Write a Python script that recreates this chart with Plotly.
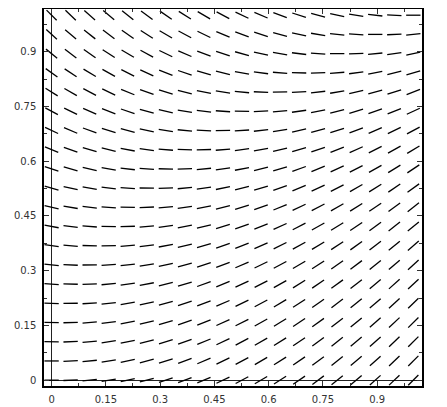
import plotly.graph_objects as go

# grid positions (20 x 20)
xs = [0.0, 0.0526, 0.1053, 0.1579, 0.2105, 0.2632, 0.3158, 0.3684, 0.4211, 0.4737,
      0.5263, 0.5789, 0.6316, 0.6842, 0.7368, 0.7895, 0.8421, 0.8947, 0.9474, 1.0]
ys = [0.0, 0.0526, 0.1053, 0.1579, 0.2105, 0.2632, 0.3158, 0.3684, 0.4211, 0.4737,
      0.5263, 0.5789, 0.6316, 0.6842, 0.7368, 0.7895, 0.8421, 0.8947, 0.9474, 1.0]

# slope at each grid point, one row per y value (bottom to top)
slopes = [
    [0.00, 0.05, 0.11, 0.16, 0.21, 0.26, 0.32, 0.37, 0.42, 0.47, 0.53, 0.58, 0.63, 0.68, 0.74, 0.79, 0.84, 0.89, 0.95, 1.00],
    [0.00, 0.05, 0.10, 0.16, 0.21, 0.26, 0.31, 0.37, 0.42, 0.47, 0.52, 0.58, 0.63, 0.68, 0.73, 0.79, 0.84, 0.89, 0.94, 1.00],
    [-0.01, 0.04, 0.09, 0.15, 0.20, 0.25, 0.31, 0.36, 0.41, 0.46, 0.52, 0.57, 0.62, 0.67, 0.73, 0.78, 0.83, 0.88, 0.94, 0.99],
    [-0.02, 0.03, 0.08, 0.13, 0.19, 0.24, 0.29, 0.34, 0.40, 0.45, 0.50, 0.55, 0.61, 0.66, 0.71, 0.76, 0.82, 0.87, 0.92, 0.98],
    [-0.04, 0.01, 0.06, 0.11, 0.17, 0.22, 0.27, 0.32, 0.38, 0.43, 0.48, 0.53, 0.59, 0.64, 0.69, 0.75, 0.80, 0.85, 0.90, 0.96],
    [-0.07, -0.02, 0.04, 0.09, 0.14, 0.19, 0.25, 0.30, 0.35, 0.40, 0.46, 0.51, 0.56, 0.62, 0.67, 0.72, 0.77, 0.83, 0.88, 0.93],
    [-0.10, -0.05, 0.01, 0.06, 0.11, 0.16, 0.22, 0.27, 0.32, 0.37, 0.43, 0.48, 0.53, 0.58, 0.64, 0.69, 0.74, 0.80, 0.85, 0.90],
    [-0.14, -0.08, -0.03, 0.02, 0.08, 0.13, 0.18, 0.23, 0.29, 0.34, 0.39, 0.44, 0.50, 0.55, 0.60, 0.65, 0.71, 0.76, 0.81, 0.86],
    [-0.18, -0.12, -0.07, -0.02, 0.03, 0.09, 0.14, 0.19, 0.24, 0.30, 0.35, 0.40, 0.45, 0.51, 0.56, 0.61, 0.66, 0.72, 0.77, 0.82],
    [-0.22, -0.17, -0.12, -0.07, -0.01, 0.04, 0.09, 0.14, 0.20, 0.25, 0.30, 0.35, 0.41, 0.46, 0.51, 0.56, 0.62, 0.67, 0.72, 0.78],
    [-0.28, -0.22, -0.17, -0.12, -0.07, -0.01, 0.04, 0.09, 0.14, 0.20, 0.25, 0.30, 0.35, 0.41, 0.46, 0.51, 0.57, 0.62, 0.67, 0.72],
    [-0.34, -0.28, -0.23, -0.18, -0.12, -0.07, -0.02, 0.03, 0.09, 0.14, 0.19, 0.24, 0.30, 0.35, 0.40, 0.45, 0.51, 0.56, 0.61, 0.66],
    [-0.40, -0.35, -0.29, -0.24, -0.19, -0.14, -0.08, -0.03, 0.02, 0.08, 0.13, 0.18, 0.23, 0.29, 0.34, 0.39, 0.44, 0.50, 0.55, 0.60],
    [-0.47, -0.42, -0.36, -0.31, -0.26, -0.21, -0.15, -0.10, -0.05, 0.01, 0.06, 0.11, 0.16, 0.22, 0.27, 0.32, 0.37, 0.43, 0.48, 0.53],
    [-0.54, -0.49, -0.44, -0.39, -0.33, -0.28, -0.23, -0.17, -0.12, -0.07, -0.02, 0.04, 0.09, 0.14, 0.19, 0.25, 0.30, 0.35, 0.40, 0.46],
    [-0.62, -0.57, -0.52, -0.47, -0.41, -0.36, -0.31, -0.25, -0.20, -0.15, -0.10, -0.04, 0.01, 0.06, 0.11, 0.17, 0.22, 0.27, 0.32, 0.38],
    [-0.71, -0.66, -0.60, -0.55, -0.50, -0.45, -0.39, -0.34, -0.29, -0.24, -0.18, -0.13, -0.08, -0.02, 0.03, 0.08, 0.13, 0.19, 0.24, 0.29],
    [-0.80, -0.75, -0.70, -0.64, -0.59, -0.54, -0.48, -0.43, -0.38, -0.33, -0.27, -0.22, -0.17, -0.12, -0.06, -0.01, 0.04, 0.09, 0.15, 0.20],
    [-0.90, -0.84, -0.79, -0.74, -0.69, -0.63, -0.58, -0.53, -0.48, -0.42, -0.37, -0.32, -0.27, -0.21, -0.16, -0.11, -0.06, 0.00, 0.05, 0.10],
    [-1.00, -0.95, -0.89, -0.84, -0.79, -0.74, -0.68, -0.63, -0.58, -0.53, -0.47, -0.42, -0.37, -0.32, -0.26, -0.21, -0.16, -0.11, -0.05, 0.00],
]

tick_vals = [0, 0.15, 0.3, 0.45, 0.6, 0.75, 0.9]
tick_text = ["0", "0.15", "0.3", "0.45", "0.6", "0.75", "0.9"]

HALF = 0.0198  # half segment length in data units

seg_x, seg_y = [], []
for j, yv in enumerate(ys):
    for i, xv in enumerate(xs):
        s = slopes[j][i]
        n = (1 + s * s) ** 0.5
        dx, dy = HALF / n, HALF * s / n
        seg_x += [xv - dx, xv + dx, None]
        seg_y += [yv - dy, yv + dy, None]

fig = go.Figure(go.Scatter(x=seg_x, y=seg_y, mode="lines",
                           line=dict(color="black", width=1.3),
                           hoverinfo="skip", showlegend=False))

axis_common = dict(
    tickvals=tick_vals, ticktext=tick_text,
    ticks="inside", ticklen=5, tickwidth=1, tickcolor="#333",
    minor=dict(ticks="inside", ticklen=3, dtick=0.075, tick0=0, tickcolor="#333", showgrid=False),
    showline=True, linecolor="black", linewidth=1.5, mirror="allticks",
    showgrid=False, zeroline=True, zerolinecolor="#222", zerolinewidth=1.2,
    tickfont=dict(family="DejaVu Sans", size=10, color="#333"),
    automargin=False,
)

fig.update_layout(
    width=447, height=407,
    margin=dict(l=36, r=33, t=1, b=29),
    paper_bgcolor="white", plot_bgcolor="white",
    xaxis=dict(range=[-0.021, 1.024], ticklabelstandoff=3, **axis_common),
    yaxis=dict(range=[-0.016, 1.017], ticklabelstandoff=4, **axis_common),
)

fig.write_html("out.html")
